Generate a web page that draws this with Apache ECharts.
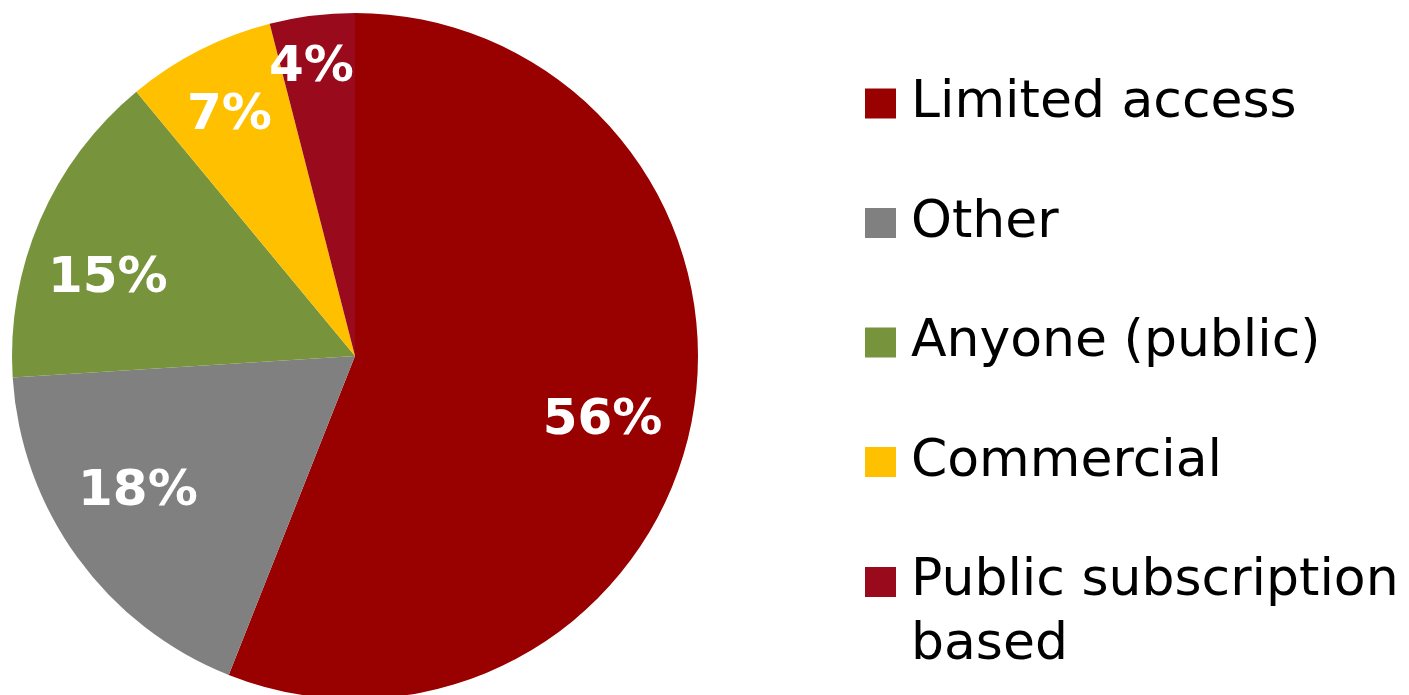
<!DOCTYPE html>
<html>
<head>
<meta charset="utf-8">
<script src="https://cdn.jsdelivr.net/npm/echarts@6/dist/echarts.min.js"></script>
<style>
  html, body { margin: 0; padding: 0; background: #ffffff; }
  #chart { width: 1409px; height: 695px; }
</style>
</head>
<body>
<div id="chart"></div>
<script>
// Access types and their share of the total (percent)
const categories = ['Limited access', 'Other', 'Anyone (public)', 'Commercial', 'Public subscription based'];
const shares = [56, 18, 15, 7, 4];
const colors = ['#990000', '#808080', '#77933C', '#FFC000', '#990A1C'];

const FONT = '"DejaVu Sans", Verdana, sans-serif';
const CENTER = [355, 356];
const RADIUS = 343;

const pieData = categories.map((name, i) => ({ name, value: shares[i], itemStyle: { color: colors[i] } }));

// Transparent copies of the pie carry the percentage labels; an "inside" label sits
// halfway along the radius, so the outer radius sets how far out the labels go and
// a small start-angle nudge slides them along the slice.
function labelPie(outer, startAngle, showIdx) {
  return {
    type: 'pie',
    silent: true,
    center: CENTER,
    radius: [0, outer],
    startAngle: startAngle,
    clockwise: true,
    avoidLabelOverlap: false,
    labelLayout: { hideOverlap: false },
    z: 5,
    legendHoverLink: false,
    itemStyle: { color: 'rgba(0,0,0,0)', borderWidth: 0 },
    emphasis: { disabled: true },
    label: {
      show: true,
      position: 'inside',
      formatter: p => p.value + '%',
      color: '#ffffff',
      fontFamily: FONT,
      fontWeight: 'bold',
      fontSize: 50,
      lineHeight: 36
    },
    labelLine: { show: false },
    data: categories.map((name, i) => ({
      name: name + ' ',
      value: shares[i],
      label: { show: showIdx.indexOf(i) >= 0 }
    }))
  };
}

// Legend names: the long one breaks onto a second line. Its first line keeps the
// normal line box (so it sits beside the swatch) and the second line hangs below it.
function legendName(name) {
  const cut = name.indexOf(' based');
  if (cut < 0) return name;
  return '{a|' + name.slice(0, cut) + '}\n{b|' + name.slice(cut + 1) + '}';
}

const chart = echarts.init(document.getElementById('chart'), null, { renderer: 'canvas' });
chart.setOption({
  animation: false,
  backgroundColor: '#ffffff',
  legend: {
    orient: 'vertical',
    left: 865,
    top: 72,
    height: 900,
    padding: 0,
    itemWidth: 31,
    itemHeight: 30,
    itemGap: 56.5,
    icon: 'rect',
    selectedMode: false,
    formatter: legendName,
    textStyle: {
      fontFamily: FONT,
      fontSize: 52,
      lineHeight: 63,
      color: '#000000',
      padding: [0, 0, 0, 10],
      rich: {
        a: { fontFamily: FONT, fontSize: 52, color: '#000000', lineHeight: 63 },
        b: { fontFamily: FONT, fontSize: 52, color: '#000000', lineHeight: 1, padding: [63, 0, 0, 0] }
      }
    },
    data: categories
  },
  series: [
    {
      type: 'pie',
      center: CENTER,
      radius: [0, RADIUS],
      startAngle: 90,
      clockwise: true,
      label: { show: false },
      labelLine: { show: false },
      emphasis: { disabled: true },
      itemStyle: { borderWidth: 0 },
      data: pieData
    },
    labelPie(506, 86, [0, 1]),
    labelPie(512, 96, [2]),
    labelPie(536, 90.6, [3]),
    labelPie(576, 91.4, [4])
  ]
});
</script>
</body>
</html>
